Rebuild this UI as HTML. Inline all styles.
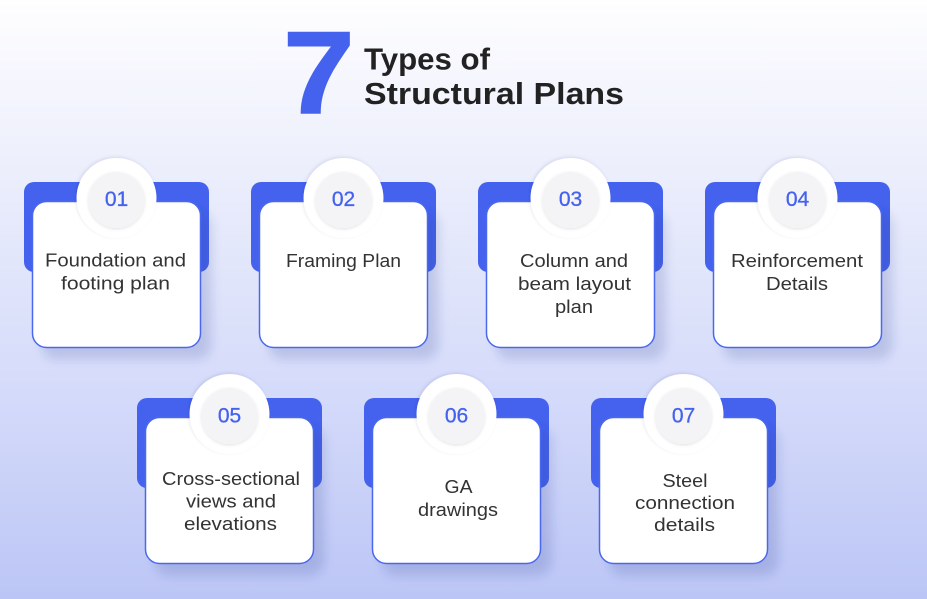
<!DOCTYPE html>
<html>
<head>
<meta charset="utf-8">
<style>
  html, body { margin: 0; padding: 0; width: 927px; height: 599px; overflow: hidden; }
  svg { display: block; }
  .lbl { font-family: "Liberation Sans", sans-serif; font-size: 18px; fill: #333333; text-anchor: middle; }
  .num { font-family: "Liberation Sans", sans-serif; font-size: 21px; fill: #4462ee; text-anchor: middle; stroke: #4462ee; stroke-width: 0.3px; }
  .ttl { font-family: "Liberation Sans", sans-serif; font-weight: bold; font-size: 31px; fill: #222222; }
</style>
</head>
<body>
<svg width="927" height="599" viewBox="0 0 927 599" xmlns="http://www.w3.org/2000/svg">
  <defs>
    <linearGradient id="bg" x1="0" y1="0" x2="0" y2="1">
      <stop offset="0" stop-color="#fefeff"/>
      <stop offset="0.25" stop-color="#eef0fc"/>
      <stop offset="0.63" stop-color="#d6dcfa"/>
      <stop offset="1" stop-color="#bcc6f6"/>
    </linearGradient>
    <filter id="cardsh" x="-20%" y="-20%" width="150%" height="150%">
      <feDropShadow dx="10" dy="11" stdDeviation="5" flood-color="#2b3a8f" flood-opacity="0.18"/>
    </filter>
    <filter id="circsh" x="-30%" y="-30%" width="160%" height="160%">
      <feDropShadow dx="-1" dy="-1" stdDeviation="1.5" flood-color="#1a2060" flood-opacity="0.10"/>
    </filter>
    <filter id="innersh" x="-30%" y="-30%" width="160%" height="160%">
      <feDropShadow dx="0" dy="1" stdDeviation="1.5" flood-color="#000000" flood-opacity="0.12"/>
    </filter>
    <g id="card">
      <rect x="0" y="0" width="185" height="90" rx="10" fill="#4462ee"/>
      <rect x="8.5" y="19.5" width="168" height="146" rx="14" fill="#ffffff" stroke="#4a68ee" stroke-width="1.5" filter="url(#cardsh)"/>
      <circle cx="92.5" cy="16" r="40" fill="#ffffff" filter="url(#circsh)"/>
      <circle cx="92.5" cy="18" r="28" fill="#f4f4f6" filter="url(#innersh)"/>
    </g>
  </defs>

  <rect x="0" y="0" width="927" height="599" fill="url(#bg)"/>

  <!-- Title -->
  <text x="281" y="113" font-family="Liberation Sans, sans-serif" font-weight="bold" font-size="117" fill="#4462ee" stroke="#4462ee" stroke-width="1.5" transform="translate(-26 0) scale(1.1 1)">7</text>
  <text class="ttl" x="364" y="69.5" textLength="126" lengthAdjust="spacingAndGlyphs">Types of</text>
  <text class="ttl" x="364" y="104" textLength="260" lengthAdjust="spacingAndGlyphs">Structural Plans</text>

  <!-- Row 1 cards -->
  <use href="#card" x="24" y="182"/>
  <use href="#card" x="251" y="182"/>
  <use href="#card" x="478" y="182"/>
  <use href="#card" x="705" y="182"/>

  <!-- Row 2 cards -->
  <use href="#card" x="137" y="398"/>
  <use href="#card" x="364" y="398"/>
  <use href="#card" x="591" y="398"/>

  <!-- Numbers -->
  <text class="num" x="116.5" y="206">01</text>
  <text class="num" x="343.5" y="206">02</text>
  <text class="num" x="570.5" y="206">03</text>
  <text class="num" x="797.5" y="206">04</text>
  <text class="num" x="229.5" y="422.5">05</text>
  <text class="num" x="456.5" y="422.5">06</text>
  <text class="num" x="683.5" y="422.5">07</text>

  <!-- Card 01 -->
  <text class="lbl" x="115.5" y="266.5" textLength="141" lengthAdjust="spacingAndGlyphs">Foundation and</text>
  <text class="lbl" x="115.5" y="289.5" textLength="109" lengthAdjust="spacingAndGlyphs">footing plan</text>

  <!-- Card 02 -->
  <text class="lbl" x="343.5" y="267" textLength="115" lengthAdjust="spacingAndGlyphs">Framing Plan</text>

  <!-- Card 03 -->
  <text class="lbl" x="574" y="267" textLength="108" lengthAdjust="spacingAndGlyphs">Column and</text>
  <text class="lbl" x="574.5" y="290" textLength="113" lengthAdjust="spacingAndGlyphs">beam layout</text>
  <text class="lbl" x="574" y="313" textLength="38" lengthAdjust="spacingAndGlyphs">plan</text>

  <!-- Card 04 -->
  <text class="lbl" x="797" y="267" textLength="132" lengthAdjust="spacingAndGlyphs">Reinforcement</text>
  <text class="lbl" x="797" y="290" textLength="62" lengthAdjust="spacingAndGlyphs">Details</text>

  <!-- Card 05 -->
  <text class="lbl" x="231" y="485" textLength="138" lengthAdjust="spacingAndGlyphs">Cross-sectional</text>
  <text class="lbl" x="231" y="507.5" textLength="90" lengthAdjust="spacingAndGlyphs">views and</text>
  <text class="lbl" x="230.5" y="530" textLength="93" lengthAdjust="spacingAndGlyphs">elevations</text>

  <!-- Card 06 -->
  <text class="lbl" x="458.5" y="493" textLength="28" lengthAdjust="spacingAndGlyphs">GA</text>
  <text class="lbl" x="458" y="516" textLength="80" lengthAdjust="spacingAndGlyphs">drawings</text>

  <!-- Card 07 -->
  <text class="lbl" x="685" y="487" textLength="45" lengthAdjust="spacingAndGlyphs">Steel</text>
  <text class="lbl" x="685" y="509" textLength="100" lengthAdjust="spacingAndGlyphs">connection</text>
  <text class="lbl" x="684.5" y="531" textLength="61" lengthAdjust="spacingAndGlyphs">details</text>
</svg>
</body>
</html>
